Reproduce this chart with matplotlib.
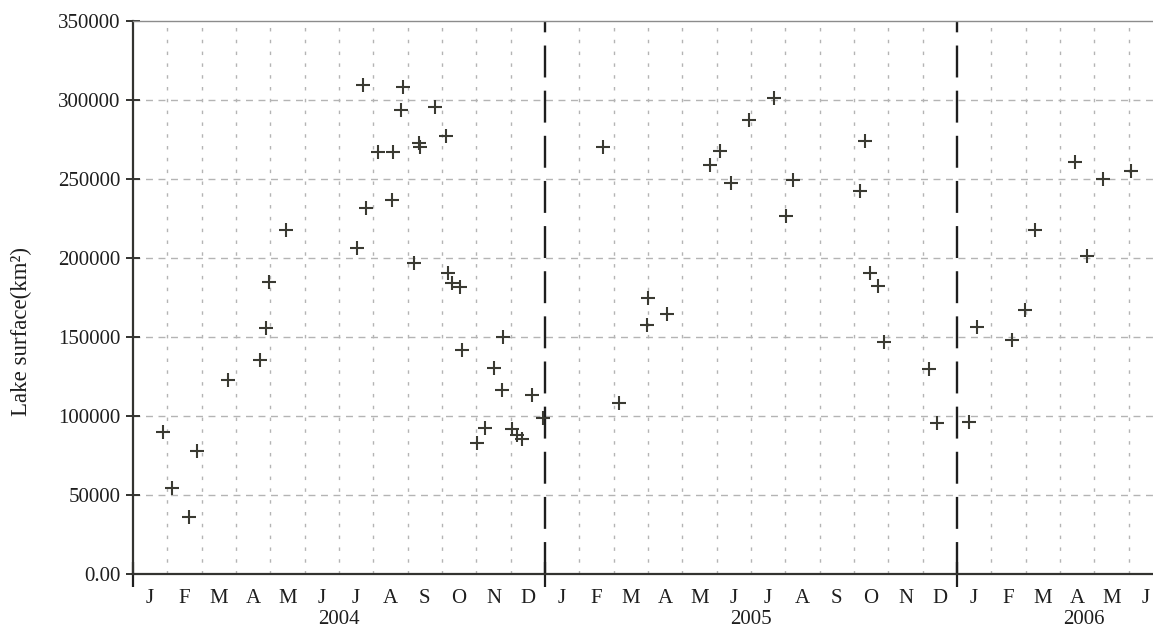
import matplotlib
matplotlib.use("Agg")
import matplotlib.pyplot as plt
import matplotlib.transforms as mtransforms

plt.rcParams['font.family'] = ['Liberation Serif', 'DejaVu Serif']
plt.rcParams['lines.scale_dashes'] = False

# observation time in months since 1 Jan 2004, lake surface in km2
months = [0.87, 1.14, 1.63, 1.86, 2.77, 3.70, 3.87, 3.96, 4.46,
          6.52, 6.79, 6.70, 7.14, 7.57, 7.55, 7.86, 7.80, 8.19,
          8.34, 8.36, 8.80, 9.11, 9.18, 9.28, 9.53, 9.58, 10.01,
          10.25, 10.52, 10.74, 10.77, 11.03, 11.18, 11.32, 11.61, 11.95,
          13.68, 14.17, 14.96, 15.01, 15.56, 16.81, 17.10, 17.41, 17.95,
          18.68, 19.01, 19.21, 21.18, 21.33, 21.47, 21.71, 21.88, 23.20,
          23.41,
          24.36, 24.57, 25.61, 25.98, 26.27, 27.44, 27.78, 28.26, 29.07]
surface = [90000, 54600, 36300, 77900, 122800, 135500, 155500, 185000, 217700,
           206300, 231800, 309500, 267300, 267300, 237000, 308400, 293700, 196600,
           273000, 270500, 295800, 277200, 190700, 184000, 181800, 141800, 83100,
           92600, 130200, 116500, 149800, 91600, 88000, 85400, 113300, 98500,
           270000, 108000, 157600, 174500, 164800, 258900, 268000, 247300, 287300,
           301100, 226800, 249400, 242400, 274000, 190700, 182500, 147000, 129600,
           95800,
           96400, 156500, 148100, 167100, 217700, 261000, 201300, 250000, 255000]

month_labels = ["J", "F", "M", "A", "M", "J", "J", "A", "S", "O", "N", "D"] * 2 + \
               ["J", "F", "M", "A", "M", "J"]
years = ["2004", "2005", "2006"]
year_label_pos = [6.0, 18.0, 27.7]
year_breaks = [12, 24]
y_ticks = [0, 50000, 100000, 150000, 200000, 250000, 300000, 350000]
y_ticklabels = ["0.00", "50000", "100000", "150000", "200000", "250000", "300000", "350000"]

fig = plt.figure(figsize=(11.53, 6.28), dpi=100)
ax = fig.add_axes([133 / 1153, 54 / 628, 1 - 133 / 1153, 553 / 628])

ax.set_xlim(0, 29.71)
ax.set_ylim(0, 350000)

# grid
for m in range(1, 30):
    if m in year_breaks:
        continue
    ax.axvline(m, color="#b4b4b4", lw=1.0, dashes=(2.5, 6), zorder=1)
for yv in y_ticks[1:-1]:
    ax.axhline(yv, color="#b4b4b4", lw=1.0, dashes=(5, 4), zorder=1)

# year separators
for b in year_breaks:
    ax.axvline(b, color="#1e1e1e", lw=1.7, dashes=(23, 9.5), zorder=2)

ax.plot(months, surface, linestyle="none", marker="+", markersize=10.5,
        markeredgewidth=1.5, color="#3a3a32", zorder=3)

# spines
for s in ["left", "bottom"]:
    ax.spines[s].set_color("#333330")
    ax.spines[s].set_linewidth(1.6)
ax.spines["top"].set_color("#8c8c8c")
ax.spines["top"].set_linewidth(1.0)
ax.spines["right"].set_visible(False)

# y axis
ax.set_yticks(y_ticks)
ax.set_yticklabels(y_ticklabels)
ax.tick_params(axis="y", direction="inout", length=10, width=1.4, color="#333330",
               labelsize=15, pad=4, labelcolor="#1e1e1e")

# x axis: year boundaries as major ticks, months as minor labels
ax.set_xticks([0] + year_breaks)
ax.set_xticklabels([])
ax.tick_params(axis="x", which="major", direction="inout", length=18, width=1.6,
               color="#1e1e1e")
ax.set_xticks([i + 0.5 for i in range(len(month_labels))], minor=True)
ax.set_xticklabels(month_labels, minor=True)
ax.tick_params(axis="x", which="minor", length=0, pad=11, labelsize=15,
               labelcolor="#1e1e1e")

trans = mtransforms.blended_transform_factory(ax.transData, ax.transAxes)
for lab, xp in zip(years, year_label_pos):
    ax.text(xp, -0.066, lab, transform=trans, ha="center", va="top",
            fontsize=15, color="#1e1e1e")

fig.text(21 / 1153, 1 - 331 / 628, "Lake surface(km²)", rotation=90,
         ha="center", va="center", fontsize=16.5, color="#1e1e1e")

fig.savefig("out.png", dpi=100)
plt.close("all")
